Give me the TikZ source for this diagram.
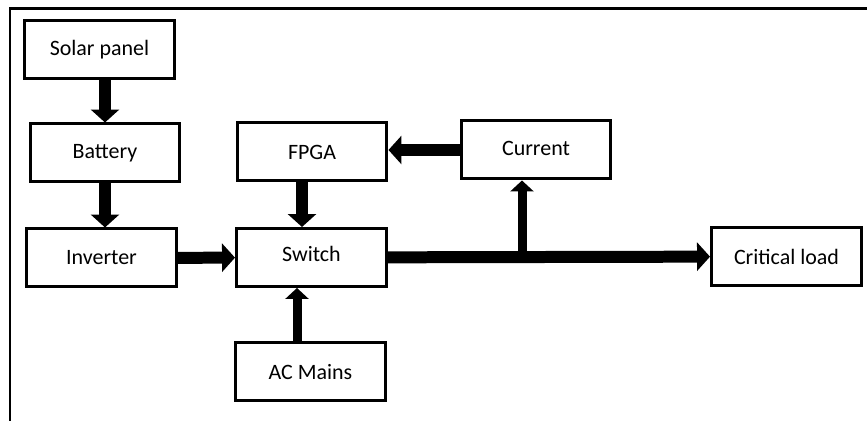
\documentclass[tikz,border=0pt]{standalone}
\usepackage{fontspec}
\setmainfont{Carlito}
\usetikzlibrary{arrows.meta}
\usetikzlibrary{positioning}

\tikzset{
  bloc/.style={draw, line width=0.06cm, minimum width=3cm, minimum height=1.16cm,
    inner sep=0pt, font=\fontsize{12.5}{14}\selectfont},
  fleche/.style={line width=0.24cm, -{Triangle[width=0.56cm, length=0.26cm]}},
  flechefine/.style={line width=0.18cm, -{Triangle[width=0.46cm, length=0.22cm]}},
}

\begin{document}
\begin{tikzpicture}[x=0.02cm, y=-0.02cm]
  \useasboundingbox (0,0) rectangle (867,421);

  % cadre (haut et gauche)
  \draw[line width=0.06cm] (10,421) -- (10,9) -- (867,9);

  % blocs
  \node[bloc] (solar)    at (99.5,49.5)  {Solar panel};
  \node[bloc] (battery)  at (105,153)    {Battery};
  \node[bloc] (inverter) at (101.5,258)  {Inverter};
  \node[bloc] (fpga)     at (312,152)    {FPGA};
  \node[bloc] (current)  at (536,150)    {\raisebox{0.06cm}{Current}};
  \node[bloc] (switch)   at (311.5,257.5){\raisebox{0.14cm}{Switch}};
  \node[bloc] (acmains)  at (310.5,372)  {AC Mains};
  \node[bloc] (critical) at (786.5,256.5){Critical load};

  % liaisons
  \draw[fleche] (solar.south -| battery) -- (battery);
  \draw[fleche] (battery) -- (battery |- inverter.north);
  \draw[fleche] (inverter) -- (switch);
  \draw[fleche] ([xshift=-0.2cm]fpga.south) -- ([xshift=-0.2cm]fpga.south |- switch.north);
  \draw[fleche] (current.west) -- (current.west -| fpga.east);
  \draw[flechefine] ([xshift=-0.27cm]acmains.north) -- ([xshift=-0.27cm]acmains.north |- switch.south);
  \draw[fleche] (switch) -- (critical);

  % derivation vers le capteur de courant
  \coordinate (derivation) at (522,257);
  \draw[flechefine] (derivation) -- (derivation |- current.south);
\end{tikzpicture}
\end{document}
